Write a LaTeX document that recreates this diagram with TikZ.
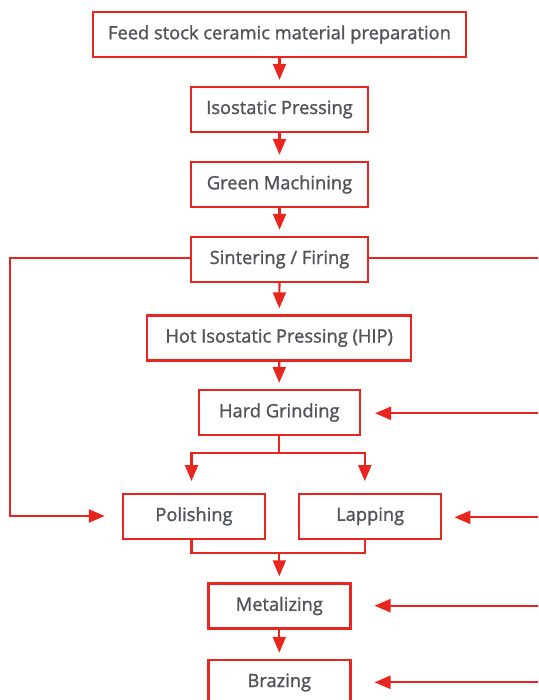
\documentclass[tikz,border=0pt]{standalone}
\usepackage{fontspec}
\newfontfamily\boxfont{Open Sans}[FakeBold=1.3]
\usetikzlibrary{arrows.meta}
\definecolor{flowred}{HTML}{E8261F}
\definecolor{txtgray}{HTML}{505359}
\begin{document}
\begin{tikzpicture}[x=1pt,y=-1pt,
  box/.style={draw=flowred,line width=2.4pt,fill=white,text=txtgray,
    font=\boxfont\fontsize{18.3}{21}\selectfont,inner sep=0pt,minimum height=45pt},
  link/.style={draw=flowred,line width=2.2pt},
  arr/.style={link,-{Triangle[length=16pt,width=13pt]}}]
\clip (0,0) rectangle (538,700);
\fill[white] (0,0) rectangle (538,700);
\node[box,minimum width=373pt] (feed) at (279.5,34.5) {Feed stock ceramic material preparation};
\node[box,minimum width=177pt] (iso) at (279.5,109.5) {Isostatic Pressing};
\node[box,minimum width=177pt] (green) at (279.5,184.5) {Green Machining};
\node[box,minimum width=177pt] (sint) at (279.5,259.5) {Sintering / Firing};
\node[box,minimum width=264pt] (hip) at (279.2,338) {Hot Isostatic Pressing (HIP)};
\node[box,minimum width=161pt] (hard) at (279.3,412.5) {Hard Grinding};
\node[box,minimum width=142pt] (pol) at (194,516.3) {Polishing};
\node[box,minimum width=142pt] (lap) at (370.2,516.3) {Lapping};
\node[box,minimum width=142pt] (met) at (279.3,606) {Metalizing};
\node[box,minimum width=142pt] (braz) at (279.3,682.5) {Brazing};
% main chain
\draw[arr,shorten >=6pt] (feed) -- (iso);
\draw[arr,shorten >=6pt] (iso) -- (green);
\draw[arr,shorten >=6pt] (green) -- (sint);
\draw[arr,shorten >=6pt] (sint) -- (hip);
\draw[arr,shorten >=6pt] (hip) -- (hard);
% branch
\coordinate (bj) at (279.3,452.7);
\coordinate (bl) at (191.5,452.7);
\coordinate (br) at (364.8,452.7);
\draw[link] (hard.south) -- (bj);
\draw[link,line cap=rect] (bl) -- (br);
\draw[arr,shorten >=11.5pt] (bl) -- (bl |- pol.north);
\draw[arr,shorten >=11.5pt] (br) -- (br |- lap.north);
% merge
\coordinate (ml) at (191.5,553.3);
\coordinate (mr) at (364.8,553.3);
\coordinate (mj) at (279.3,553.3);
\draw[link] (ml |- pol.south) -- (ml) -- (mr) -- (mr |- lap.south);
\draw[arr,shorten >=6pt] (mj) -- (met);
\draw[arr,shorten >=6pt] (met) -- (braz);
% left feedback
\coordinate (lc1) at (9.6,258.3);
\coordinate (lc2) at (9.6,516);
\draw[arr,shorten >=17pt] (sint.west |- lc1) -- (lc1) -- (lc2) -- (lc2 -| pol.west);
% right side
\coordinate (rtop) at (545,258.3);
\draw[link] (sint.east |- rtop) -- (rtop);
\coordinate (r1) at (545,413.3);
\coordinate (r2) at (545,517.3);
\coordinate (r3) at (545,605.7);
\coordinate (r4) at (545,682.3);
\draw[arr,shorten >=14pt] (r1) -- (r1 -| hard.east);
\draw[arr,shorten >=12pt] (r2) -- (r2 -| lap.east);
\draw[arr,shorten >=23pt] (r3) -- (r3 -| met.east);
\draw[arr,shorten >=23pt] (r4) -- (r4 -| braz.east);
\end{tikzpicture}
\end{document}
